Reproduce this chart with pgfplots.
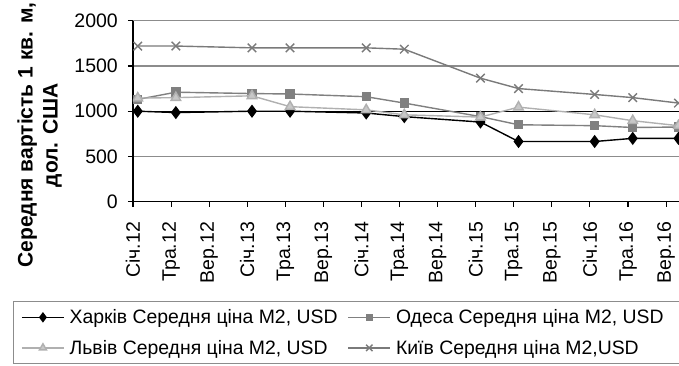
\documentclass[border=0pt]{standalone}
\usepackage{fontspec}
\setmainfont{Liberation Sans}
\usepackage{pgfplots}
\pgfplotsset{compat=1.18}
\definecolor{gridc}{HTML}{8C8C8C}
\definecolor{odc}{HTML}{808080}
\definecolor{lvl}{HTML}{B0B0B0}
\definecolor{lvf}{HTML}{C8C8C8}
\definecolor{kyc}{HTML}{7A7A7A}
\newcommand{\fs}{\fontsize{19.5bp}{23bp}\selectfont}
\newcommand{\fl}{\fontsize{19.4bp}{23bp}\selectfont}
\newcommand{\fy}{\fontsize{21bp}{25bp}\selectfont}
\begin{document}
\begin{tikzpicture}
\begin{axis}[
  scale only axis, width=546bp, height=181bp,
  xmin=0, xmax=57.36, ymin=0, ymax=2000,
  axis lines*=left,
  axis line style={black, line width=1.2bp},
  tick align=outside,
  major tick length=5bp,
  tick style={black, line width=1.1bp},
  xtick={0,4,...,56},
  xticklabels={Січ.12,Тра.12,Вер.12,Січ.13,Тра.13,Вер.13,Січ.14,Тра.14,Вер.14,Січ.15,Тра.15,Вер.15,Січ.16,Тра.16,Вер.16},
  ytick={0,500,1000,1500,2000},
  extra y ticks={1000}, extra y tick labels={},
  extra y tick style={grid style={black, line width=1.2bp}},
  ymajorgrids,
  grid style={gridc, line width=1.3bp},
  /pgf/number format/assume math mode=true,
  /pgf/number format/1000 sep={},
  xticklabel style={rotate=90, anchor=east, inner sep=0bp, xshift=-15bp, font=\fs},
  yticklabel style={anchor=east, inner sep=0bp, xshift=-10bp, font=\fs},
  ylabel={Середня вартість 1 кв. м,\\дол. США},
  ylabel style={at={(axis description cs:-0.171,0.3685)}, anchor=center, align=center, font=\fy\bfseries},
  clip marker paths=true,
  legend columns=2,
  legend style={at={(axis description cs:-0.2203,-0.5486)}, anchor=north west,
    draw=gridc, line width=1.1bp, inner xsep=8bp, inner ysep=8bp,
    nodes={inner sep=0bp}, row sep=15bp, font=\fl},
  legend cell align=left,
  legend image code/.code={\draw[mark repeat=2,mark phase=2,#1, every mark/.append style={scale=0.75}] plot coordinates {(0bp,0bp) (21bp,0bp) (42bp,0bp)}; \path (47bp,0bp);},
]
\addplot[black, line width=1.4bp, mark=diamond*, mark size=5.5bp, mark options={fill=black, solid}]
  coordinates {(0.5,1000) (4.5,985) (12.5,1000) (16.5,1000) (24.5,980) (28.5,940) (36.5,880) (40.5,665) (48.5,665) (52.5,700) (57.3,700)};
\addlegendentry{\makebox[278bp][l]{Харків Середня ціна М2, USD}}
\addplot[odc, line width=1.4bp, mark=square*, mark size=4bp, mark options={fill=odc, draw=odc, solid}]
  coordinates {(0.5,1130) (4.5,1210) (12.5,1195) (16.5,1190) (24.5,1160) (28.5,1090) (36.5,940) (40.5,850) (48.5,840) (52.5,820) (57.3,825)};
\addlegendentry{\makebox[278bp][l]{Одеса Середня ціна М2, USD}}
\addplot[lvl, line width=1.4bp, mark=triangle*, mark size=5.5bp, mark options={fill=lvf, draw=lvl, solid}]
  coordinates {(0.5,1145) (4.5,1150) (12.5,1170) (16.5,1050) (24.5,1015) (28.5,960) (36.5,935) (40.5,1045) (48.5,960) (52.5,895) (57.3,840)};
\addlegendentry{\makebox[278bp][l]{Львів Середня ціна М2, USD}}
\addplot[kyc, line width=1.4bp, mark=x, mark size=6bp, mark options={draw=kyc, solid}]
  coordinates {(0.5,1720) (4.5,1720) (12.5,1700) (16.5,1700) (24.5,1700) (28.5,1685) (36.5,1365) (40.5,1250) (48.5,1185) (52.5,1150) (57.3,1090)};
\addlegendentry{\makebox[278bp][l]{Київ Середня ціна М2,USD}}
\end{axis}
\pgfresetboundingbox
\path[use as bounding box] (current axis.south west) ++(-133bp,-164.3bp) rectangle ++(679bp,366bp);
\end{tikzpicture}
\end{document}
